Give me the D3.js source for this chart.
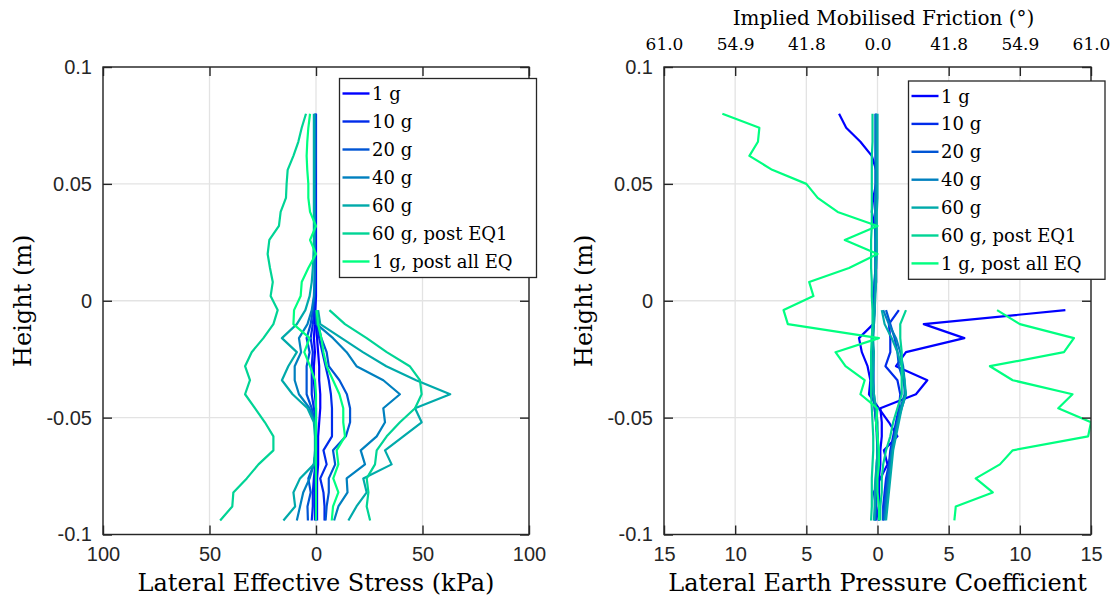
<!DOCTYPE html>
<html>
<head>
<meta charset="utf-8">
<script src="https://cdn.jsdelivr.net/npm/d3@7"></script>
<style>
    body { margin: 0; background: #fff; }
    .grid line { stroke: #e3e3e3; stroke-width: 1.3; }
    .frame { fill: none; stroke: #262626; stroke-width: 1.4; }
    .axis path { display: none; }
    .axis line { stroke: #262626; stroke-width: 1.4; }
    .axis text { font-family: 'Liberation Sans', Arial, sans-serif; font-size: 20px; fill: #262626; }
    .axis.serif-ticks text { font-family: 'DejaVu Serif', serif; font-size: 17px; fill: #000; }
    .title { font-family: 'DejaVu Serif', serif; fill: #000; }
    .series { fill: none; stroke-width: 2.2; stroke-linejoin: round; }
    .legend-box { fill: #fff; stroke: #262626; stroke-width: 1.3; }
    .legend-label { font-family: 'DejaVu Serif', serif; font-size: 18px; fill: #000; }
</style>
</head>
<body>
<div id="chart"></div>
<script>
// heights of the gauges on the left wall (m), right wall gauges are the lower ones
const heights = [0.080, 0.074, 0.068, 0.062, 0.056, 0.050, 0.044, 0.038, 0.032, 0.026,
    0.020, 0.014, 0.008, 0.002, -0.004, -0.010, -0.016, -0.022, -0.028, -0.034,
    -0.040, -0.046, -0.052, -0.058, -0.064, -0.070, -0.076, -0.082, -0.088, -0.094]
const heightsRightWall = [-0.004, -0.010, -0.016, -0.022, -0.028, -0.034, -0.040, -0.046,
    -0.052, -0.058, -0.064, -0.070, -0.076, -0.082, -0.088, -0.094]

const seriesNames = ['1 g', '10 g', '20 g', '40 g', '60 g', '60 g, post EQ1', '1 g, post all EQ']
const seriesColours = ['#0000ff', '#002bea', '#0055d4', '#0080bf', '#00aaaa', '#00d495', '#00ff80']

// lateral effective stress (kPa), left wall plotted negative
const stressLeftWall = [
    [0, 0, 0, 0, 0, 0, 0, 0, 0, 0, 0, 0, 0, 0, -0.3, -0.5, -1, -0.5, -1, -1, -0.5, 0, 0, 0, 0, 0, -0.5, -0.5, -0.5, -0.5],
    [-0.2, -0.2, -0.2, -0.2, -0.2, -0.2, -0.2, -0.2, -0.2, -0.3, -0.3, -0.3, -0.3, -0.4, -0.8, -1.5, -2.5, -1.5, -2, -2, -2, -1, 0, 0, 0, -0.3, -1, -1.5, -1.5, -2],
    [-0.3, -0.3, -0.3, -0.3, -0.3, -0.4, -0.4, -0.4, -0.4, -0.5, -0.5, -0.5, -0.6, -0.8, -1.5, -2.5, -4.4, -3, -4.4, -4.4, -4.4, -2, -0.5, 0, 0, -1, -3.6, -2.5, -4, -3.8],
    [-0.4, -0.4, -0.4, -0.4, -0.5, -0.5, -0.5, -0.5, -0.5, -0.6, -0.6, -0.6, -0.7, -1, -2, -4, -8, -7, -10, -10, -8, -3, -0.5, 0, 0, -1, -3, -6, -7.5, -9],
    [-1, -1, -1, -1, -1, -1, -1, -1, -1, -1, -1.2, -1.5, -2, -3, -5, -9, -16, -9, -13, -16, -11, -4, -1, -0.5, -0.5, -1, -7.5, -10.6, -9.8, -15.3],
    [-4.7, -6.7, -8.3, -10.6, -13.3, -13.8, -14.1, -16.6, -17.4, -21.9, -22.7, -21.6, -20.3, -21.3, -18, -20, -24.7, -30.2, -33.3, -31, -33.3, -28.6, -24, -20, -20, -27, -32.5, -38.8, -39.3, -45],
    [-2.8, -3.6, -4.1, -4.4, -4.1, -3.6, -3.6, -2.8, 0, -2.8, 0, -3.6, -6.7, -7.2, -10.3, -10.6, -3, -5.5, -2.8, -0.5, 0, 0, 0, 0, 0, 0, 0, 0, 0, 0]
]
const stressRightWall = [
    [0, 0, 0.5, 1, 1.5, 1.5, 2, 2, 1.5, 1, 1, 1, 0.5, 0.5, 0.5, 0.5],
    [0, 0.5, 1.5, 3, 4.5, 6, 7, 7.5, 7.5, 7.5, 3.5, 5, 2, 3.5, 4, 4],
    [0, 1, 2.5, 5, 6, 11, 14.5, 16, 16, 14, 8, 9, 6, 6, 5, 4.5],
    [0, 0.3, 8, 14.4, 19, 31.6, 39.4, 31.6, 32.4, 28.5, 21, 23, 14.4, 14.8, 10.5, 8.5],
    [1, 2, 12, 22, 33, 47, 63, 46.5, 49.6, 41, 32.4, 35.5, 22.2, 23.8, 19, 15.2],
    [6.3, 13.6, 23.8, 33.2, 44, 48.8, 49.6, 46.5, 39.4, 33.2, 28.5, 27.7, 23.8, 24.6, 23.8, 25.4],
    [0.3, 1, 2.5, 3.5, 5, 8, 11, 12.8, 12.8, 13.6, 9.7, 10.5, 8.1, 10.5, 8, 7.4]
]

// lateral earth pressure coefficient K
const kLeftWall = [
    [-2.7, -2.2, -1.2, -0.4, -0.1, -0.1, -0.3, -0.4, -0.2, -0.1, -0.1, -0.1, -0.2, -0.3, -0.3, -0.3, -1.3, -1.1, -0.7, -0.5, -0.6, 0.1, 0.8, 1.4, 0.45, 0.7, 0.2, -0.26, -0.1, 0.1],
    [-0.1, -0.1, -0.1, -0.1, -0.1, -0.1, -0.1, -0.1, -0.1, -0.1, -0.1, -0.1, -0.1, -0.2, -0.2, -0.3, -0.4, -0.3, -0.3, -0.3, -0.3, -0.2, -0.1, 0, 0, 0, -0.1, -0.1, -0.1, -0.1],
    [-0.15, -0.15, -0.15, -0.15, -0.15, -0.15, -0.15, -0.15, -0.15, -0.15, -0.15, -0.15, -0.2, -0.2, -0.25, -0.3, -0.35, -0.3, -0.3, -0.3, -0.3, -0.2, -0.1, -0.05, 0, -0.05, -0.1, -0.1, -0.15, -0.15],
    [-0.1, -0.1, -0.1, -0.1, -0.1, -0.1, -0.15, -0.15, -0.15, -0.15, -0.15, -0.15, -0.2, -0.2, -0.2, -0.25, -0.3, -0.3, -0.3, -0.3, -0.25, -0.15, -0.05, 0, 0, -0.05, -0.1, -0.15, -0.15, -0.2],
    [0, 0, 0, 0, 0, 0, 0, -0.05, -0.05, -0.05, -0.05, -0.1, -0.1, -0.15, -0.2, -0.25, -0.35, -0.25, -0.3, -0.35, -0.25, -0.1, 0, 0, 0, -0.05, -0.15, -0.2, -0.2, -0.25],
    [-0.35, -0.35, -0.35, -0.4, -0.4, -0.4, -0.4, -0.4, -0.4, -0.45, -0.45, -0.45, -0.4, -0.4, -0.35, -0.35, -0.4, -0.45, -0.45, -0.45, -0.45, -0.4, -0.35, -0.3, -0.3, -0.35, -0.4, -0.4, -0.4, -0.45],
    [-10.9, -8.3, -8.4, -9.0, -7.4, -5.0, -4.2, -2.8, 0, -2.3, 0, -2.0, -4.8, -4.5, -6.6, -6.3, 0.1, -2.95, -2.25, -0.9, -1.2, 0, -0.1, 0, 0.1, 0.1, 0, 0, 0.1, 0.1]
]
const kRightWall = [
    [13.2, 3.25, 6.1, 2.0, 1.3, 3.5, 2.7, 0.2, 0.3, 0.3, 0.2, 0.2, 0.1, 0.1, 0.1, 0.1],
    [1.5, 0.8, 0.9, 0.9, 0.56, 1.4, 1.6, 1.5, 1.3, 1.1, 0.9, 0.8, 0.6, 0.5, 0.4, 0.4],
    [0.6, 0.9, 1.2, 1.4, 1.5, 1.8, 2.0, 1.7, 1.4, 1.2, 1.0, 0.8, 0.7, 0.6, 0.5, 0.4],
    [0.4, 0.8, 1.3, 1.6, 1.8, 1.9, 1.9, 1.6, 1.4, 1.2, 1.0, 0.9, 0.8, 0.7, 0.6, 0.5],
    [0.3, 0.5, 1.0, 1.4, 1.7, 1.9, 2.0, 1.7, 1.5, 1.3, 1.1, 1.0, 0.9, 0.8, 0.7, 0.6],
    [2.0, 1.6, 1.6, 1.7, 1.7, 1.7, 1.7, 1.4, 1.1, 0.9, 0.6, 0.4, 0.3, 0.3, 0.2, 0.2],
    [8.4, 10.0, 13.8, 13.1, 7.9, 9.5, 13.7, 12.7, 15, 14.8, 9.5, 8.6, 6.9, 8.1, 5.5, 5.4]
]

const heightTicks = [-0.1, -0.05, 0, 0.05, 0.1]
const heightTickLabels = ['-0.1', '-0.05', '0', '0.05', '0.1']
const stressTicks = [-100, -50, 0, 50, 100]
const kTicks = [-15, -10, -5, 0, 5, 10, 15]
const frictionTickLabels = ['61.0', '54.9', '41.8', '0.0', '41.8', '54.9', '61.0']

document.addEventListener('DOMContentLoaded', (event) => {
    onLoad()
});

function onLoad() {
    const viewBoxWidth = 1111
    const viewBoxHeight = 604
    const plotTop = 67
    const plotBottom = 534.5
    const tickLength = 9

    const svg = d3.select('#chart')
        .append('svg')
        .attr('width', viewBoxWidth)
        .attr('height', viewBoxHeight)
        .attr('viewBox', [0, 0, viewBoxWidth, viewBoxHeight])

    const y = d3.scaleLinear().domain([-0.1, 0.1]).range([plotBottom, plotTop])

    const panels = [
        {
            id: 'stress',
            x: d3.scaleLinear().domain([-100, 100]).range([103, 529]),
            xTicks: stressTicks,
            leftWall: stressLeftWall,
            rightWall: stressRightWall,
            xLabel: 'Lateral Effective Stress (kPa)',
            legendX: 339.5, legendY: 78.5, legendWidth: 197, legendStep: 28
        },
        {
            id: 'coefficient',
            x: d3.scaleLinear().domain([-15, 15]).range([664, 1091]),
            xTicks: kTicks,
            leftWall: kLeftWall,
            rightWall: kRightWall,
            xLabel: 'Lateral Earth Pressure Coefficient',
            legendX: 908.5, legendY: 81, legendWidth: 196.5, legendStep: 27.9,
            topTickLabels: frictionTickLabels,
            topLabel: 'Implied Mobilised Friction (°)'
        }
    ]

    for (const panel of panels) {
        const x = panel.x
        const [left, right] = x.range()
        const g = svg.append('g').attr('id', panel.id)

        // grid
        const grid = g.append('g').attr('class', 'grid')
        grid.selectAll('line.gx')
            .data(panel.xTicks)
            .enter()
            .append('line')
            .attr('x1', d => x(d)).attr('x2', d => x(d))
            .attr('y1', plotTop).attr('y2', plotBottom)
        grid.selectAll('line.gy')
            .data(heightTicks)
            .enter()
            .append('line')
            .attr('x1', left).attr('x2', right)
            .attr('y1', d => y(d)).attr('y2', d => y(d))

        // series lines, clipped to the axes
        g.append('clipPath')
            .attr('id', `clip-${panel.id}`)
            .append('rect')
            .attr('x', left).attr('y', plotTop)
            .attr('width', right - left).attr('height', plotBottom - plotTop)

        const line = d3.line()
            .x(d => x(d[0]))
            .y(d => y(d[1]))

        const lines = g.append('g').attr('clip-path', `url(#clip-${panel.id})`)
        seriesNames.forEach((name, i) => {
            lines.append('path')
                .attr('class', 'series')
                .attr('stroke', seriesColours[i])
                .attr('d', line(d3.zip(panel.leftWall[i], heights)))
            lines.append('path')
                .attr('class', 'series')
                .attr('stroke', seriesColours[i])
                .attr('d', line(d3.zip(panel.rightWall[i], heightsRightWall)))
        })

        // axes, ticks pointing inwards on all four sides
        g.append('g')
            .attr('class', 'axis')
            .attr('transform', `translate(0, ${plotBottom})`)
            .call(d3.axisBottom(x).tickValues(panel.xTicks).tickSize(-tickLength).tickPadding(12)
                .tickFormat(d => Math.abs(d)))
        g.append('g')
            .attr('class', 'axis')
            .attr('transform', `translate(${left}, 0)`)
            .call(d3.axisLeft(y).tickValues(heightTicks).tickSize(-tickLength).tickPadding(11)
                .tickFormat((d, i) => heightTickLabels[i]))
        g.append('g')
            .attr('class', 'axis')
            .attr('transform', `translate(${right}, 0)`)
            .call(d3.axisRight(y).tickValues(heightTicks).tickSize(-tickLength).tickFormat(''))

        const topAxis = d3.axisTop(x).tickValues(panel.xTicks).tickSize(-tickLength)
        if (panel.topTickLabels) {
            topAxis.tickPadding(17).tickFormat((d, i) => panel.topTickLabels[i])
        } else {
            topAxis.tickFormat('')
        }
        g.append('g')
            .attr('class', 'axis serif-ticks')
            .attr('transform', `translate(0, ${plotTop})`)
            .call(topAxis)

        g.append('rect')
            .attr('class', 'frame')
            .attr('x', left).attr('y', plotTop)
            .attr('width', right - left).attr('height', plotBottom - plotTop)

        // axis titles
        g.append('text')
            .attr('class', 'title')
            .attr('x', (left + right) / 2)
            .attr('y', 591)
            .attr('text-anchor', 'middle')
            .attr('font-size', 24)
            .text(panel.xLabel)
        g.append('text')
            .attr('class', 'title')
            .attr('transform', `translate(${left - 72}, ${y(0)}) rotate(-90)`)
            .attr('text-anchor', 'middle')
            .attr('font-size', 24)
            .text('Height (m)')
        if (panel.topLabel) {
            g.append('text')
                .attr('class', 'title')
                .attr('x', (left + right) / 2 + 6)
                .attr('y', 25)
                .attr('text-anchor', 'middle')
                .attr('font-size', 20)
                .text(panel.topLabel)
        }

        // legend
        const legend = g.append('g')
            .attr('class', 'legend')
            .attr('transform', `translate(${panel.legendX}, ${panel.legendY})`)
        legend.append('rect')
            .attr('class', 'legend-box')
            .attr('width', panel.legendWidth)
            .attr('height', panel.legendStep * seriesNames.length + 3)
        const legendEntry = legend.selectAll('g.entry')
            .data(seriesNames)
            .enter()
            .append('g')
            .attr('class', 'entry')
            .attr('transform', (d, i) => `translate(0, ${15 + panel.legendStep * i})`)
        legendEntry.append('line')
            .attr('x1', 3).attr('x2', 30)
            .attr('stroke', (d, i) => seriesColours[i])
            .attr('stroke-width', 2.4)
        legendEntry.append('text')
            .attr('class', 'legend-label')
            .attr('x', 32.5)
            .attr('y', 6.5)
            .text(d => d)
    }
}
</script>
</body>
</html>
